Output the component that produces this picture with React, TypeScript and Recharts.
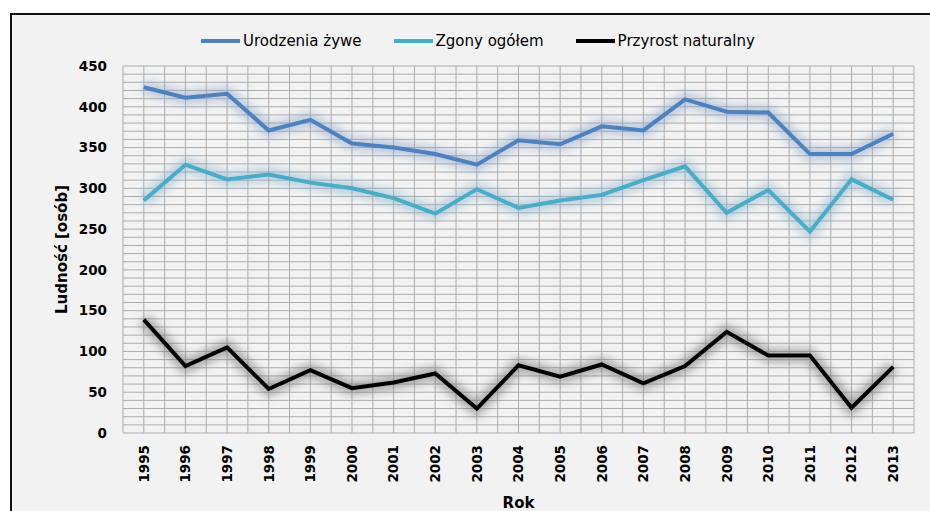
import React from 'react';
import { LineChart, Line, XAxis, YAxis, CartesianGrid, Legend } from 'recharts';

const years = ['1995','1996','1997','1998','1999','2000','2001','2002','2003','2004','2005','2006','2007','2008','2009','2010','2011','2012','2013'];
const urodzenia = [424, 411, 416, 371, 384, 355, 350, 342, 329, 359, 354, 376, 371, 409, 394, 393, 342, 342, 367];
const zgony = [285, 329, 311, 317, 307, 300, 288, 269, 299, 276, 285, 292, 310, 327, 270, 298, 247, 311, 286];
const przyrost = [139, 82, 105, 54, 77, 55, 62, 73, 30, 83, 69, 84, 61, 82, 124, 95, 95, 31, 81];

const seriesNames = ['Urodzenia żywe', 'Zgony ogółem', 'Przyrost naturalny'];
const seriesKeys = ['u', 'z', 'p'];
const seriesColors = ['#4f81bd', '#4bacc6', '#000000'];
const glowColors = ['#8aa4cc', '#8ab4d2', '#6a6a6a'];

const yTickValues = [0, 50, 100, 150, 200, 250, 300, 350, 400, 450];
const yMax = 450;
const yMinorStep = 10;

const data = years.map((y, i) => ({ idx: i, year: y, u: urodzenia[i], z: zgony[i], p: przyrost[i] }));

const xGridTicks: number[] = [];
for (let k = -1; k <= years.length * 2 - 1; k++) xGridTicks.push(k / 2);
const yGridTicks: number[] = [];
for (let v = 0; v <= yMax; v += yMinorStep) yGridTicks.push(v);

const XTick = (props: any) => {
  const { x, y, payload } = props;
  const v = payload.value;
  if (!Number.isInteger(v) || v < 0 || v >= years.length) return null;
  return (
    <g transform={`translate(${x},${y})`}>
      <text transform="rotate(-90)" textAnchor="end" dy="0.36em" fontFamily="DejaVu Sans" fontWeight="bold" fontSize={13.5} fill="#000">
        {years[v]}
      </text>
    </g>
  );
};

const LegendContent = () => (
  <div style={{ display: 'flex', alignItems: 'center', height: 20, paddingLeft: 201, fontFamily: 'DejaVu Sans', fontSize: 15, color: '#000' }}>
    {seriesNames.map((n, i) => (
      <div key={n} style={{ display: 'flex', alignItems: 'center', marginRight: 32 }}>
        <div style={{ width: 39, height: 4, background: seriesColors[i], marginRight: 3 }} />
        <span style={{ whiteSpace: 'nowrap' }}>{n}</span>
      </div>
    ))}
  </div>
);

export default function App() {
  return (
    <div style={{ position: 'absolute', left: 0, top: 0, width: 930, height: 511, background: '#ffffff', overflow: 'hidden' }}>
      <div style={{ position: 'absolute', left: 10, top: 13, width: 960, height: 540, borderLeft: '2px solid #111', borderTop: '2px solid #111', background: '#f2f2f2' }} />
      <div style={{ position: 'absolute', left: 0, top: 0 }}>
        <LineChart width={930} height={511} data={data} margin={{ top: 46, right: 16, bottom: 0, left: 0 }}>
          <defs>
            <filter id="glow" x="-20%" y="-50%" width="140%" height="200%">
              <feGaussianBlur stdDeviation="4" />
            </filter>
          </defs>
          <CartesianGrid stroke="#adadad" strokeWidth={1} />
          <XAxis
            dataKey="idx"
            type="number"
            domain={[-0.5, years.length - 0.5]}
            ticks={xGridTicks}
            interval={0}
            tick={<XTick />}
            tickLine={false}
            axisLine={false}
            tickSize={0}
            tickMargin={12}
            height={78}
            allowDataOverflow
            label={{ value: 'Rok', position: 'insideBottom', offset: 3, fontFamily: 'DejaVu Sans', fontWeight: 'bold', fontSize: 15, fill: '#000' }}
          />
          <YAxis
            type="number"
            domain={[0, yMax]}
            ticks={yGridTicks}
            interval={0}
            tickFormatter={(v: number) => (yTickValues.includes(v) ? String(v) : '')}
            tick={{ fontFamily: 'DejaVu Sans', fontWeight: 'bold', fontSize: 13.5, fill: '#000' }}
            tickLine={false}
            axisLine={false}
            tickSize={0}
            tickMargin={16}
            width={123}
            allowDataOverflow
            label={{ value: 'Ludność [osób]', angle: -90, position: 'center', fontFamily: 'DejaVu Sans', fontWeight: 'bold', fontSize: 15, fill: '#000' }}
          />
          <Legend verticalAlign="top" content={<LegendContent />} wrapperStyle={{ top: 31, left: 0, width: 930, height: 20 }} />
          {seriesKeys.map((k, i) => (
            <Line
              key={'g' + k}
              dataKey={k}
              stroke={glowColors[i]}
              strokeWidth={14}
              strokeOpacity={0.5}
              filter="url(#glow)"
              dot={false}
              activeDot={false}
              legendType="none"
              isAnimationActive={false}
            />
          ))}
          {seriesKeys.map((k, i) => (
            <Line
              key={k}
              dataKey={k}
              name={seriesNames[i]}
              stroke={seriesColors[i]}
              strokeWidth={4}
              dot={false}
              activeDot={false}
              isAnimationActive={false}
            />
          ))}
        </LineChart>
      </div>
    </div>
  );
}
